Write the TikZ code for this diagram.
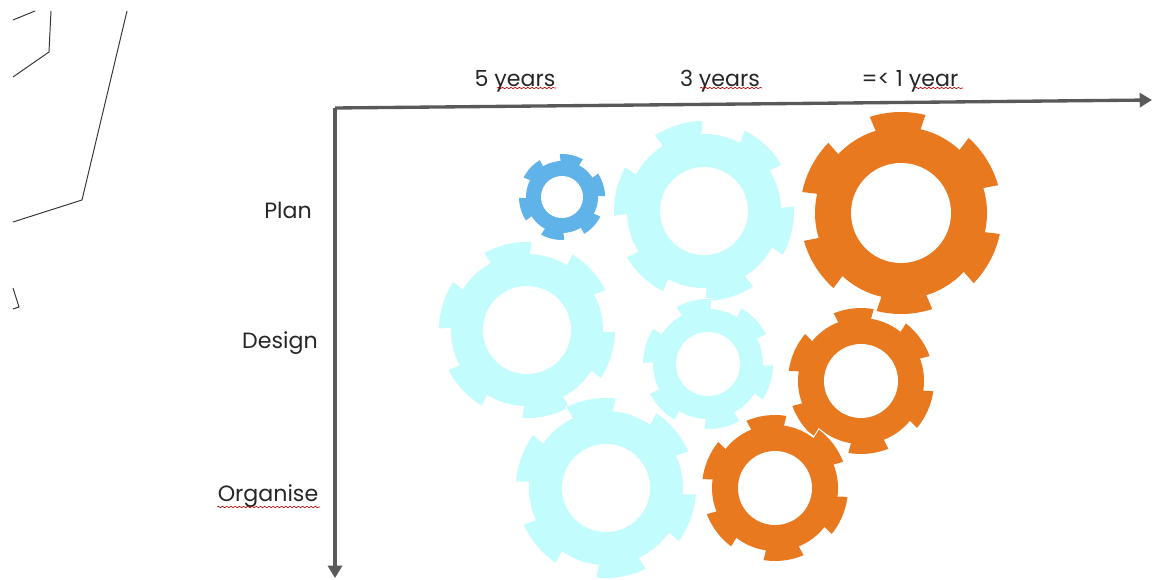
\documentclass[tikz,border=0pt]{standalone}
\usepackage{fontspec}
\setmainfont{Poppins}
\usetikzlibrary{arrows.meta,decorations.pathmorphing}
\definecolor{paleteal}{HTML}{C2FCFC}
\definecolor{gearorange}{HTML}{E8791F}
\definecolor{gearblue}{HTML}{5FB3E8}
\definecolor{axisgrey}{HTML}{595959}
\tikzset{axis/.style = {draw=axisgrey, line width=1.9pt, -{Triangle[length=7pt,width=8pt]}}}
\tikzset{label/.style = {inner sep=0pt, text=black!85, font=\fontsize{12.6}{14}\selectfont}}
\tikzset{squiggle/.style = {draw=red!75!black, line width=0.35pt, decorate, decoration={snake, amplitude=0.4pt, segment length=2.4pt}}}
\tikzset{outline/.style = {draw=black!80, line width=0.55pt}}
% x y outer body hole rotation colour
\newcommand{\gearshape}[7]{
\begin{scope}[shift={(#1,#2)}, rotate=#6]
\fill[white] (0,0) circle (#4+2);
\foreach \a in {0,60,...,300}
  \draw[white, line width=1.2pt] ({\a-15}:#4-2) -- ({\a-16}:#3) arc[start angle=\a-16, end angle=\a+16, radius=#3] -- ({\a+15}:#4-2) -- cycle;
\foreach \a in {0,60,...,300}
  \fill[#7] ({\a-15}:#4-2) -- ({\a-16}:#3) arc[start angle=\a-16, end angle=\a+16, radius=#3] -- ({\a+15}:#4-2) -- cycle;
\fill[#7] (0,0) circle (#4);
\fill[white] (0,0) circle (#5);
\end{scope}
}
\begin{document}
\begin{tikzpicture}[x=0.02cm, y=0.02cm]
\useasboundingbox (0,0) rectangle (1152,579);
% outlines cut off at the left
\draw[outline] (13,559) -- (35,568);
\draw[outline] (51,568) -- (49,527) -- (13,502);
\draw[outline] (127,568) -- (82,379) -- (13,357);
\draw[outline] (13,291) -- (19,272) -- (13,270);
% gears
\gearshape{562}{382}{43}{36}{21}{17}{gearblue}
\gearshape{704}{368}{90}{77}{44}{47}{paleteal}
\gearshape{901}{366}{101}{86}{50}{32}{gearorange}
\gearshape{527}{249}{88}{76}{44}{43}{paleteal}
\gearshape{708}{215}{65}{55}{32}{43}{paleteal}
\gearshape{606}{91}{90}{77}{44}{40}{paleteal}
\gearshape{861}{198}{73}{63}{37}{36}{gearorange}
\gearshape{775}{91}{73}{63}{37}{37}{gearorange}
% axes
\coordinate (origin) at (335,471);
\coordinate (timeend) at (1152,479);
\coordinate (stageend) at (335,1);
\draw[axis] (origin) -- (timeend);
\draw[axis] (origin) -- (stageend);
% labels
\node[label] (five) at (515,498) {5 years};
\node[label] (three) at (720,498) {3 years};
\node[label] (one) at (910,498) {=< 1 year};
\node[label] (plan) at (288,369) {Plan};
\node[label] (design) at (280,236) {Design};
\node[label] (organise) at (268,83) {Organise};
\draw[squiggle] (497,491) -- (556,491);
\draw[squiggle] (700,491) -- (762,491);
\draw[squiggle] (915,491) -- (963,491);
\draw[squiggle] (217,72) -- (320,72);
\end{tikzpicture}
\end{document}
